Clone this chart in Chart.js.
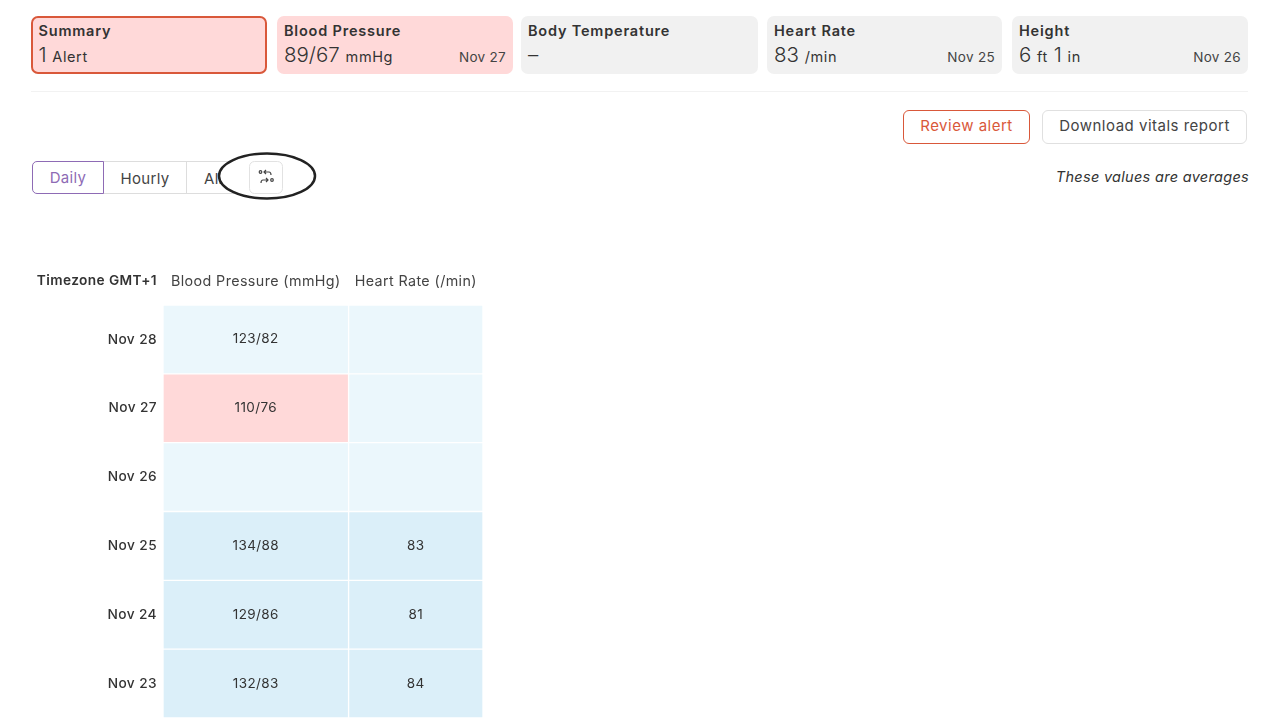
<!DOCTYPE html>
<html>
<head>
<meta charset="utf-8">
<script src="https://cdn.jsdelivr.net/npm/chart.js@4"></script>
<style>
body { margin: 0; width: 1280px; height: 720px; background: #fff; overflow: hidden; position: relative;
  font-family: Inter, sans-serif; color: #333; letter-spacing: .3px; }
.abs { position: absolute; box-sizing: border-box; }
.card { top: 16px; height: 58px; border-radius: 7px; background: #f1f1f1; }
.card.red { background: #ffd9d9; }
.card.sel { border: 2px solid #d9583a; }
.card b { position: absolute; left: 7px; top: 6px; font-size: 14.5px; font-weight: 600; letter-spacing: .8px; }
.card.sel b { left: 5.5px; top: 4px; }
.card .val { position: absolute; left: 7px; top: 26px; font-size: 20.5px; font-weight: 300; white-space: nowrap; letter-spacing: 0; }
.card.sel .val { left: 5.5px; top: 24px; }
.card .val small { font-size: 14.5px; font-weight: 400; letter-spacing: .6px; }
.card .date { position: absolute; right: 7px; top: 33px; font-size: 13.5px; color: #444; }
.btn { top: 110px; height: 34px; border-radius: 6px; border: 1.5px solid #e0e0e0; font-size: 15px; letter-spacing: .5px; text-align: center; line-height: 30px; color: #444; background: #fff; }
.seg { top: 161px; height: 33px; font-size: 15px; text-align: center; line-height: 33px; color: #444; border: 1px solid #ddd; }
#chart { position: absolute; left: 0; top: 262px; }
</style>
</head>
<body>
<div id="cards"></div>
<div class="abs" style="left:31px;top:91px;width:1217px;height:1px;background:#f2f2f2"></div>
<div class="abs btn" style="left:903px;width:127px;color:#d9583a;border-color:#d9583a">Review alert</div>
<div class="abs btn" style="left:1042px;width:205px">Download vitals report</div>

<div class="abs seg" style="left:103px;width:84px">Hourly</div>
<div class="abs seg" style="left:186px;width:53px;border-radius:0 5px 5px 0;text-align:left;padding-left:17px">All</div>
<div class="abs seg" style="left:32px;width:72px;border:1.5px solid #8e6bb5;border-radius:5px 0 0 5px;color:#8e6bb5;line-height:31px">Daily</div>
<svg class="abs" style="left:210px;top:145px" width="115" height="62">
  <ellipse cx="57" cy="31" rx="48" ry="22.5" fill="#fff" stroke="#222" stroke-width="2.5"/>
  <rect x="39.5" y="16.5" width="33" height="32" rx="5" fill="#fff" stroke="#e2e2e2"/>
  <g fill="none" stroke="#444" stroke-width="1.2">
    <circle cx="50.5" cy="27" r="1.3"/><path d="M54 27h5q2 0 2 3M56 25l-2 2 2 2"/>
    <circle cx="62" cy="35" r="1.3"/><path d="M58 35h-5q-2 0-2 3M56 33l2 2-2 2"/>
  </g>
</svg>
<div class="abs" style="right:31px;top:168px;font-size:14.5px;font-style:italic;color:#333">These values are averages</div>

<canvas id="chart" width="483" height="458"></canvas>
<script>
const cardTitles = ['Summary', 'Blood Pressure', 'Body Temperature', 'Heart Rate', 'Height'];
const cardValues = ['1 <small>Alert</small>', '89/67 <small>mmHg</small>', '–', '83 <small>/min</small>', '6 <small>ft</small> 1 <small>in</small>'];
const cardDates = ['', 'Nov 27', '', 'Nov 25', 'Nov 26'];

const dates = ['Nov 28', 'Nov 27', 'Nov 26', 'Nov 25', 'Nov 24', 'Nov 23'];
const columnNames = ['Blood Pressure (mmHg)', 'Heart Rate (/min)'];
const bpValues = ['123/82', '110/76', '', '134/88', '129/86', '132/83'];
const hrValues = ['', '', '', '83', '81', '84'];
const alertDates = ['Nov 27'];

const cardLefts = [31, 277, 521, 767, 1012];
const cardWidths = [236, 236, 237, 235, 236];
document.getElementById('cards').innerHTML = cardTitles.map((t, i) =>
  `<div class="abs card ${i < 2 ? 'red' : ''} ${i == 0 ? 'sel' : ''}" style="left:${cardLefts[i]}px;width:${cardWidths[i]}px">
    <b>${t}</b><span class="val">${cardValues[i]}</span><span class="date">${cardDates[i]}</span></div>`).join('');

// row is pale until heart rate readings exist
function cellColor(i, isBp) {
    if (isBp && alertDates.includes(dates[i])) return '#ffd9d9';
    return hrValues[i] === '' ? '#ebf7fc' : '#dbeff9';
}

function headerScale(name, weight) {
    return {
        type: 'linear', position: 'top', stack: 'cols', stackWeight: weight, min: 0, max: 1,
        grid: { display: false }, border: { display: false }, ticks: { display: false },
        title: { display: true, text: name, color: '#444', font: { family: 'Inter', size: 14.3 }, padding: { top: 11, bottom: 10 } },
        afterFit(scale) { scale.height = 43; }
    };
}

const cellText = {
    id: 'cellText',
    beforeDraw(chart) { chart.ctx.letterSpacing = '0.4px'; },
    afterDatasetsDraw(chart) {
        const ctx = chart.ctx;
        ctx.save();
        ctx.textAlign = 'center';
        ctx.textBaseline = 'middle';
        ctx.fillStyle = '#333';
        ctx.font = '13.5px Inter';
        [bpValues, hrValues].forEach((vals, d) => {
            chart.getDatasetMeta(d).data.forEach((bar, i) => {
                const c = bar.getCenterPoint();
                ctx.fillText(vals[i], c.x, c.y);
            });
        });
        ctx.textAlign = 'right';
        ctx.font = '600 13.7px Inter';
        ctx.fillText('Timezone GMT+1', chart.scales.y.right - 6, 19);
        ctx.restore();
    }
};

new Chart(document.getElementById('chart'), {
    type: 'bar',
    data: {
        labels: dates,
        datasets: [
            { label: columnNames[0], data: dates.map(() => 1), xAxisID: 'xBp', backgroundColor: dates.map((d, i) => cellColor(i, true)) },
            { label: columnNames[1], data: dates.map(() => 1), xAxisID: 'xHr', backgroundColor: dates.map((d, i) => cellColor(i, false)) }
        ]
    },
    options: {
        indexAxis: 'y',
        responsive: false,
        animation: false,
        grouped: false,
        barPercentage: 1,
        categoryPercentage: 1,
        borderColor: '#fff',
        borderWidth: 1,
        borderSkipped: false,
        layout: { padding: { bottom: 2 } },
        plugins: { legend: { display: false }, tooltip: { enabled: false } },
        scales: {
            y: {
                grid: { display: false, drawTicks: false }, border: { display: false },
                ticks: { color: '#333', padding: 6, autoSkip: false, font: { family: 'Inter', size: 13.7, weight: '500' } },
                afterFit(scale) {
                    scale.width = 163;
                    scale.paddingTop = 0;
                    scale.paddingBottom = 0;
                }
            },
            // top axes are placed in reverse order
            xHr: headerScale(columnNames[1], 134),
            xBp: headerScale(columnNames[0], 185)
        }
    },
    plugins: [cellText]
});
</script>
</body>
</html>
